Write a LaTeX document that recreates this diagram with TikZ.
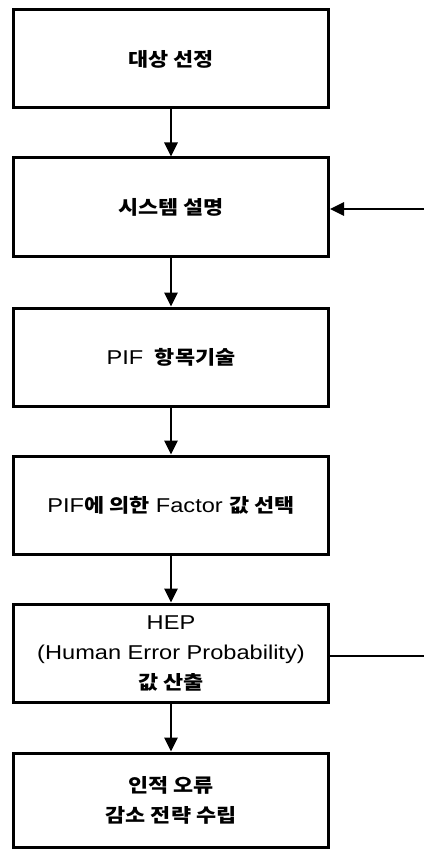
\documentclass[tikz,border=0pt]{standalone}
\usepackage{fontspec}
\setmainfont{Liberation Sans}[FakeStretch=1.18]
\newfontfamily\kofont{Noto Sans CJK KR}[FakeStretch=1.15]
\newcommand{\ko}[1]{{\kofont\bfseries\fontsize{19}{30}\selectfont #1}}
\usetikzlibrary{arrows.meta}

\tikzset{
  stage/.style={draw, line width=3pt, minimum width=315pt, minimum height=98pt,
    inner sep=0pt, align=center, font=\fontsize{20}{30}\selectfont},
  link/.style={line width=2.8pt, -{Triangle[length=14pt,width=13pt]}},
  plain/.style={line width=2.8pt}
}

\begin{document}
\begin{tikzpicture}[x=1pt,y=1pt]
  \useasboundingbox (0,0) rectangle (424,-850);

  % process steps, top to bottom
  \node[stage] (b1) at (171,-59)   {\ko{대상 선정}};
  \node[stage] (b2) at (171,-207)  {\ko{시스템 설명}};
  \node[stage] (b3) at (171,-357)  {PIF \ko{ 항목기술}};
  \node[stage] (b4) at (171,-505)  {PIF\ko{에 의한} Factor \ko{값 선택}};
  \node[stage] (b5) at (171,-653)  {HEP\\(Human Error Probability)\\\ko{값 산출}};
  \node[stage, minimum height=94pt] (b6) at (171,-800) {\ko{인적 오류}\\\ko{감소 전략 수립}};

  % main flow
  \draw[link] (b1) -- (b2);
  \draw[link] (b2) -- (b3);
  \draw[link] (b3) -- (b4);
  \draw[link] (b4) -- (b5);
  \draw[link] (b5) -- (b6);

  % feedback lines running off to the right
  \coordinate (fbin)  at (424,-209);
  \coordinate (fbout) at (424,-656);
  \draw[link] (fbin) -- (b2.east |- fbin);
  \draw[plain] (b5.east |- fbout) -- (fbout);
\end{tikzpicture}
\end{document}
